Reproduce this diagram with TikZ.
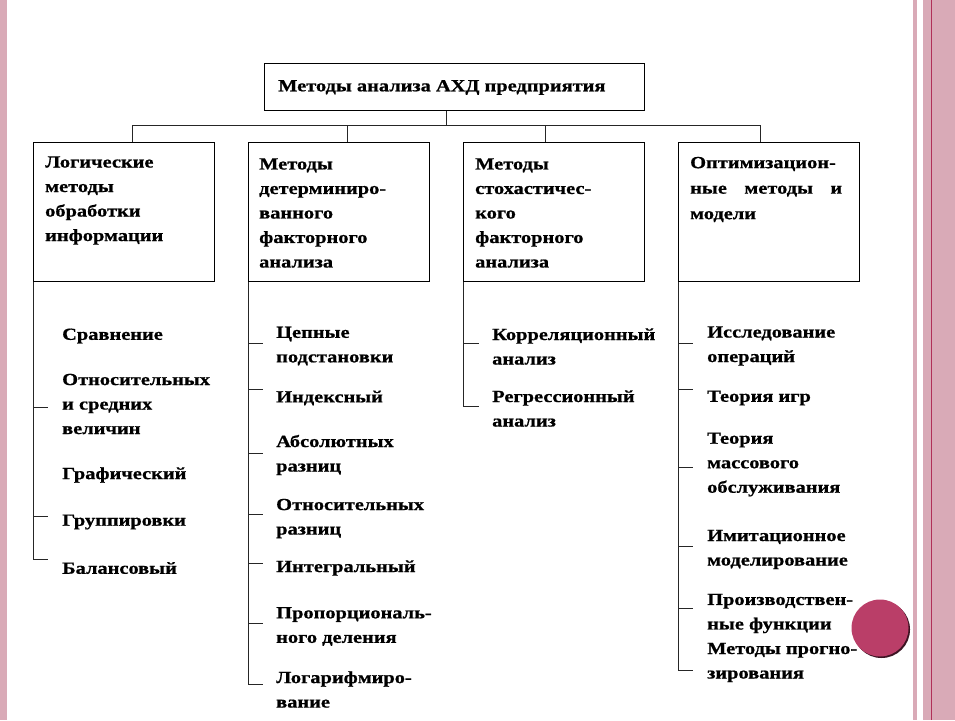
\documentclass[tikz,border=0pt]{standalone}
\usepackage{fontspec}
\setmainfont{Liberation Serif}
\newfontfamily\diagfont{Liberation Serif}[FakeStretch=1.2,FakeBold=0.8]
\definecolor{pinkband}{RGB}{217,170,183}
\definecolor{redline}{RGB}{176,48,88}
\definecolor{ballcol}{RGB}{186,62,104}
\definecolor{ballshadow}{RGB}{60,20,35}
\tikzset{
  frame/.style={draw=black, line width=1.2pt, inner sep=0pt},
  colbox/.style={frame, minimum width=181pt, minimum height=139pt, anchor=north west},
  txt/.style={font=\diagfont\bfseries\fontsize{17}{24.5}\selectfont, align=left, inner sep=0pt, anchor=west},
  conn/.style={draw=black!85, line width=0.8pt},
}
\begin{document}
\begin{tikzpicture}[x=1pt,y=-1pt]
\useasboundingbox (0,0) rectangle (955,720);
% decorative borders
\fill[pinkband] (0,0) rectangle (7,720);
\fill[pinkband] (913,0) rectangle (917,720);
\fill[pinkband] (923,0) rectangle (955,720);
\draw[redline, line width=0.8pt] (931.5,0) -- (931.5,720);
% ball
\fill[ballshadow] (881.5,629.5) circle (28.5);
\fill[ballcol] (880,628) circle (28.5);

% title
\node[frame, minimum width=380pt, minimum height=47pt, anchor=north west] (top) at (264,63) {};
\node[txt] (toptext) at (278,87.5) {Методы анализа АХД предприятия};

% column boxes
\node[colbox] (b1) at (33,142) {};
\node[colbox] (b2) at (248,142) {};
\node[colbox] (b3) at (463,142) {};
\node[colbox] (b4) at (678,142) {};

\node[txt] (t1) at (45,200.5) {Логические\\методы\\обработки\\информации};
\node[txt] (t2) at (259,213) {Методы\\детерминиро-\\ванного\\факторного\\анализа};
\node[txt] (t3) at (475,213) {Методы\\стохастичес-\\кого\\факторного\\анализа};
\node[txt, font=\diagfont\bfseries\fontsize{17}{25.5}\selectfont] (t4) at (690,189.5) {Оптимизацион-\\\hbox to 152pt{ные\hfill методы\hfill и}\\модели};

% bus
\coordinate (bus) at (446,125);
\coordinate (k1) at (132,125);
\coordinate (k2) at (347,125);
\coordinate (k3) at (545,125);
\coordinate (k4) at (760,125);
\draw[conn] (top.south -| bus) -- (bus);
\draw[conn] (k1) -- (k4);
\draw[conn] (k1) -- (k1 |- b1.north);
\draw[conn] (k2) -- (k2 |- b2.north);
\draw[conn] (k3) -- (k3 |- b3.north);
\draw[conn] (k4) -- (k4 |- b4.north);

% column 1 list
\coordinate (e1) at (33,559);
\draw[conn] (b1.south west) -- (e1) -- ++(15,0);
\draw[conn] (33,407) -- ++(15,0);
\draw[conn] (33,516) -- ++(15,0);
\node[txt] (c11) at (62,336) {Сравнение};
\node[txt] (c12) at (62,404) {Относительных\\и средних\\величин};
\node[txt] (c13) at (62,475) {Графический};
\node[txt] (c14) at (62,522) {Группировки};
\node[txt] (c15) at (62,568) {Балансовый};

% column 2 list
\coordinate (e2) at (248,684);
\draw[conn] (b2.south west) -- (e2) -- ++(15,0);
\foreach \y in {343,389,453,514,563,623} \draw[conn] (248,\y) -- ++(15,0);
\node[txt] (c21) at (276,346) {Цепные\\подстановки};
\node[txt] (c22) at (276,398) {Индексный};
\node[txt] (c23) at (276,455) {Абсолютных\\разниц};
\node[txt] (c24) at (276,518.5) {Относительных\\разниц};
\node[txt] (c25) at (276,568) {Интегральный};
\node[txt] (c26) at (276,626.5) {Пропорциональ-\\ного деления};
\node[txt] (c27) at (276,689.5) {Логарифмиро-\\вание};

% column 3 list
\coordinate (e3) at (463,406);
\draw[conn] (b3.south west) -- (e3) -- ++(16,0);
\draw[conn] (463,343) -- ++(16,0);
\node[txt] (c31) at (492,346.5) {Корреляционный\\анализ};
\node[txt] (c32) at (492,408.5) {Регрессионный\\анализ};

% column 4 list
\coordinate (e4) at (678,670);
\draw[conn] (b4.south west) -- (e4) -- ++(15,0);
\foreach \y in {343,389,467,546,608} \draw[conn] (678,\y) -- ++(15,0);
\node[txt] (c41) at (707,346) {Исследование\\операций};
\node[txt] (c42) at (707,398) {Теория игр};
\node[txt] (c43) at (707,464.5) {Теория\\массового\\обслуживания};
\node[txt] (c44) at (707,549.5) {Имитационное\\моделирование};
\node[txt] (c45) at (707,613.5) {Производствен-\\ные функции};
\node[txt] (c46) at (707,662.5) {Методы прогно-\\зирования};
\end{tikzpicture}
\end{document}
